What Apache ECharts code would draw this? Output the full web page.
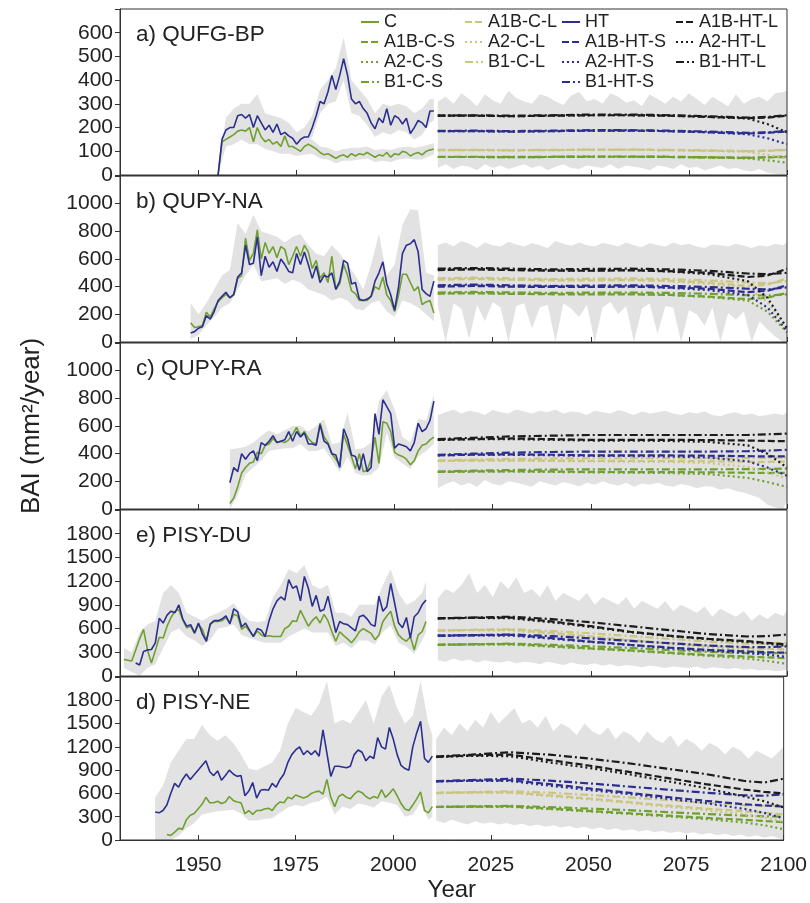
<!DOCTYPE html>
<html><head><meta charset="utf-8">
<script src="https://cdn.jsdelivr.net/npm/echarts@6/dist/echarts.min.js"></script>
<style>html,body{margin:0;padding:0;background:#fff}#c{width:810px;height:903px}</style>
</head><body><div id="c"></div>
<script>
// ---------- axis ticks ----------
const xTicks = [1950, 1975, 2000, 2025, 2050, 2075, 2100];
const panelTitles = ['a) QUFG-BP', 'b) QUPY-NA', 'c) QUPY-RA', 'e) PISY-DU', 'd) PISY-NE'];
const yMaxes = [700, 1200, 1200, 2100, 2100];
const ySteps = [100, 200, 200, 300, 300];
const yLabelMax = [600, 1000, 1000, 1800, 1800];

// ---------- projection x positions ----------
const scenYears = [2011, 2020, 2030, 2040, 2050, 2060, 2070, 2080, 2090, 2095, 2100];
const projYears = [2011,2013,2015,2017,2019,2021,2023,2025,2027,2029,2031,2033,2035,2037,2039,2041,2043,2045,2047,2049,2051,2053,2055,2057,2059,2061,2063,2065,2067,2069,2071,2073,2075,2077,2079,2081,2083,2085,2087,2089,2091,2093,2095,2097,2099,2100];

// ================= a) QUFG-BP =================
const a_C_start = 1955;
const a_C = [0,140,150,160,170,185,190,185,200,140,200,160,140,150,130,140,120,165,120,120,110,100,120,130,120,110,95,85,90,80,70,80,85,75,90,80,90,85,95,85,75,85,80,95,75,90,85,100,95,80,90,95,85,100,105,110];
const a_HT_start = 1955;
const a_HT = [0,150,190,200,200,250,255,240,255,200,250,220,190,210,180,215,170,180,165,155,130,150,160,160,200,250,310,300,350,420,360,420,490,420,320,300,310,280,260,220,195,240,220,280,210,250,240,215,240,175,200,230,220,200,270,270];
const a_bandYears = [1955,1957,1959,1961,1963,1965,1967,1969,1971,1973,1975,1977,1979,1981,1983,1985,1987,1989,1991,1993,1995,1997,1999,2001,2003,2005,2007,2009,2010];
const a_bandHT_lo = [0,150,160,200,200,190,150,140,130,120,100,120,160,260,300,310,400,260,250,210,160,180,170,190,180,150,170,220,230];
const a_bandHT_hi = [30,240,280,300,300,340,260,250,240,220,180,200,250,360,400,450,580,400,360,320,260,300,290,300,290,260,280,320,320];
const a_bandC_lo = [0,120,130,150,130,130,110,100,90,90,80,85,90,70,65,50,60,60,65,70,55,60,55,65,70,65,65,80,85];
const a_bandC_hi = [20,180,200,220,230,220,180,170,160,150,140,150,150,120,115,100,110,115,115,120,105,110,105,115,120,115,120,130,135];
const a_proj_hi = [310,330,300,345,320,290,340,315,300,355,325,310,300,340,330,310,295,335,350,310,320,300,345,330,305,315,290,340,320,300,330,310,345,320,295,330,310,290,340,300,320,330,310,345,350,355];
const a_proj_lo = [30,45,25,40,35,20,45,30,40,25,35,45,30,40,20,35,45,30,25,40,35,30,45,25,40,35,30,20,40,35,25,45,30,35,20,30,40,25,30,20,15,25,10,5,0,10];
const a_A1B_HT_L = [250,250,248,250,252,252,250,245,240,242,250];
const a_A2_HT_L  = [250,250,248,250,252,252,250,245,238,215,180];
const a_B1_HT_L  = [250,252,250,252,255,255,252,248,242,245,252];
const a_A1B_HT_S = [185,185,183,185,187,187,185,180,175,178,183];
const a_A2_HT_S  = [185,185,183,185,187,187,185,180,172,155,130];
const a_B1_HT_S  = [186,187,185,187,189,189,187,183,178,180,185];
const a_A1B_C_L  = [105,105,104,105,106,106,105,102,100,102,105];
const a_A2_C_L   = [105,105,104,105,106,106,105,102,98,85,70];
const a_B1_C_L   = [106,106,105,106,107,107,106,104,101,103,107];
const a_A1B_C_S  = [76,76,75,76,77,77,76,74,72,74,76];
const a_A2_C_S   = [76,76,75,76,77,77,76,74,70,62,52];
const a_B1_C_S   = [77,77,76,77,78,78,77,75,73,75,78];

// ================= b) QUPY-NA =================
const b_C_start = 1948;
const b_C = [140,105,110,120,215,180,240,290,320,345,320,340,460,480,750,590,640,810,600,720,640,690,610,690,670,560,620,690,620,700,650,530,590,460,500,430,620,380,420,560,480,370,350,300,300,300,330,400,380,470,340,300,220,340,490,490,430,370,400,270,290,300,210];
const b_HT_start = 1948;
const b_HT = [65,75,100,110,190,165,220,300,330,360,320,345,470,500,700,560,570,760,480,620,540,580,510,600,560,510,500,640,560,650,560,460,550,430,480,470,500,380,440,590,570,420,430,310,300,310,330,440,500,580,420,340,230,400,640,700,710,740,650,380,350,330,440];
const b_bandYears = [1948,1950,1952,1954,1956,1958,1960,1962,1964,1966,1968,1970,1972,1974,1976,1978,1980,1982,1984,1986,1988,1990,1992,1994,1996,1998,2000,2002,2004,2006,2008,2010];
const b_band_lo = [20,50,120,180,250,280,380,480,560,440,450,460,420,450,430,380,360,340,300,320,300,240,230,280,300,220,180,300,280,250,200,150];
const b_band_hi = [280,200,280,380,480,520,860,780,920,800,780,760,720,760,780,700,640,620,700,640,560,480,380,560,780,480,560,850,960,950,500,480];
const b_proj_hi = [700,720,690,730,710,680,720,700,690,725,705,690,715,700,680,730,710,695,720,700,690,715,705,690,720,700,685,715,700,690,720,700,710,690,680,705,700,690,710,695,680,700,690,710,700,720];
const b_proj_lo = [260,0,280,240,20,270,150,290,250,0,260,280,100,250,270,0,280,240,180,270,0,250,290,200,260,0,240,280,60,260,250,0,230,200,120,250,0,210,160,220,0,150,90,40,0,0];
const b_A1B_HT_L = [520,525,520,515,515,518,512,500,470,480,530];
const b_A2_HT_L  = [525,528,522,518,518,520,510,490,440,320,100];
const b_B1_HT_L  = [530,535,530,525,528,530,525,515,495,490,500];
const b_A1B_HT_S = [400,405,400,398,398,400,395,385,360,370,410];
const b_A2_HT_S  = [405,408,402,400,400,402,392,375,340,250,80];
const b_B1_HT_S  = [410,415,410,405,408,410,405,398,385,380,395];
const b_A1B_C_L  = [450,455,450,445,445,448,442,430,405,415,460];
const b_A2_C_L   = [455,458,452,448,448,450,440,420,390,290,90];
const b_B1_C_L   = [460,465,460,455,458,460,455,445,430,425,440];
const b_A1B_C_S  = [350,352,348,345,345,345,340,328,310,320,355];
const b_A2_C_S   = [352,355,350,347,347,348,340,325,300,220,70];
const b_B1_C_S   = [358,362,358,355,357,358,355,348,338,335,345];

// ================= c) QUPY-RA =================
const c_C_start = 1958;
const c_C = [40,80,160,260,300,330,340,410,400,460,470,510,480,490,480,500,540,590,530,560,510,480,470,620,520,480,400,360,320,540,460,380,290,400,270,280,360,520,330,630,620,560,410,390,380,360,320,350,420,460,470,500,520];
const c_HT_start = 1958;
const c_HT = [190,300,270,400,360,400,420,350,480,460,490,530,480,490,500,560,490,560,520,550,470,470,460,610,490,470,400,390,300,580,510,390,380,280,400,270,300,690,540,790,740,690,440,470,460,450,420,480,620,560,580,640,780];
const c_bandYears = [1958,1960,1962,1964,1966,1968,1970,1972,1974,1976,1978,1980,1982,1984,1986,1988,1990,1992,1994,1996,1998,2000,2002,2004,2006,2008,2010];
const c_band_lo = [0,100,250,300,350,420,430,440,440,470,420,420,440,350,270,380,260,240,250,300,550,370,330,290,380,420,470];
const c_band_hi = [430,440,450,480,530,570,540,570,600,600,560,600,650,470,480,700,430,440,480,780,860,720,520,480,650,640,830];
const c_proj_hi = [680,700,720,690,710,700,680,715,700,690,720,705,690,710,700,720,690,705,700,680,710,700,690,715,700,680,705,690,700,710,690,680,700,690,705,680,670,690,700,680,690,670,680,690,680,700];
const c_proj_lo = [150,180,200,170,190,160,210,180,170,200,190,175,160,200,185,170,195,180,165,190,175,200,180,170,190,160,185,175,190,170,160,180,170,150,165,160,140,150,130,120,100,80,30,10,0,60];
const c_A1B_HT_L = [500,505,510,505,500,500,500,498,495,492,490];
const c_A2_HT_L  = [500,505,505,500,495,495,492,485,460,400,300];
const c_B1_HT_L  = [505,515,525,530,535,535,535,535,535,540,545];
const c_A1B_HT_S = [388,392,395,392,388,388,387,385,382,380,380];
const c_A2_HT_S  = [388,392,392,388,384,383,380,372,345,300,240];
const c_B1_HT_S  = [392,400,408,412,415,415,415,415,418,422,428];
const c_A1B_C_L  = [347,350,352,350,348,347,347,345,342,340,345];
const c_A2_C_L   = [347,350,350,347,344,342,340,333,305,265,220];
const c_B1_C_L   = [350,357,362,365,367,367,367,367,368,370,372];
const c_A1B_C_S  = [268,271,273,271,268,267,267,265,262,260,262];
const c_A2_C_S   = [268,271,271,268,265,263,260,252,225,195,160];
const c_B1_C_S   = [271,277,282,285,287,287,287,287,288,290,292];

// ================= e) PISY-DU =================
const e_C_start = 1931;
const e_C = [210,200,190,330,470,590,330,165,320,490,480,630,740,820,840,710,610,630,540,650,590,440,650,690,690,700,740,670,780,760,590,630,570,500,570,520,500,510,500,500,500,600,630,700,690,830,730,630,700,750,670,780,700,560,440,560,510,470,420,480,560,600,570,540,460,520,690,760,820,630,520,470,440,500,330,520,560,690];
const e_HT_start = 1934;
const e_HT = [165,140,310,330,335,420,730,670,770,820,800,900,720,630,650,545,670,530,440,660,700,700,720,760,660,850,810,620,670,580,500,600,580,500,700,850,950,1000,960,1220,1110,1140,950,1260,1110,880,1020,820,840,1010,780,550,690,660,650,610,570,750,770,720,650,630,1010,820,880,1170,920,670,610,740,480,750,800,900,960];
const e_bandYears = [1931,1933,1935,1937,1939,1941,1943,1945,1947,1949,1951,1953,1955,1957,1959,1961,1963,1965,1967,1969,1971,1973,1975,1977,1979,1981,1983,1985,1987,1989,1991,1993,1995,1997,1999,2001,2003,2005,2007,2008];
const e_band_lo = [100,50,0,100,150,350,550,600,500,450,380,460,600,620,650,520,480,450,420,420,420,500,550,600,550,550,550,380,420,350,450,450,400,560,640,420,370,280,450,550];
const e_band_hi = [350,300,550,650,700,1050,1150,1050,800,750,700,760,800,850,920,780,700,680,700,1000,1150,1350,1300,1400,1150,1100,1150,800,800,750,900,900,900,1150,1350,1050,900,950,1050,1200];
const e_proj_hi = [980,1100,1050,1150,1300,1050,1150,1000,1200,1100,1250,1050,1100,1000,1150,950,1050,1000,950,1050,900,1000,950,900,1000,850,950,900,850,950,820,900,850,800,880,750,850,800,750,820,700,780,720,800,760,820];
const e_proj_lo = [200,180,220,190,210,170,200,180,170,190,160,180,170,150,180,160,140,170,150,140,160,130,150,120,140,130,110,130,120,100,120,110,100,120,90,110,100,90,100,80,90,70,80,60,70,80];
const e_A1B_HT_L = [730,735,740,690,630,560,510,470,440,420,400];
const e_A2_HT_L  = [730,735,730,680,620,555,505,465,430,410,380];
const e_B1_HT_L  = [730,740,750,720,680,630,580,530,500,505,525];
const e_A1B_HT_S = [510,515,520,480,435,395,360,330,310,300,295];
const e_A2_HT_S  = [510,515,510,472,430,390,352,320,290,270,240];
const e_B1_HT_S  = [510,518,525,505,475,445,415,385,365,365,375];
const e_A1B_C_L  = [575,580,585,545,500,455,415,380,355,345,335];
const e_A2_C_L   = [575,580,575,535,495,450,405,365,330,300,265];
const e_B1_C_L   = [575,585,592,570,540,505,470,435,410,410,420];
const e_A1B_C_S  = [395,400,405,378,350,325,295,265,245,235,225];
const e_A2_C_S   = [395,400,398,370,345,318,288,255,220,190,155];
const e_B1_C_S   = [395,402,410,395,375,355,330,305,290,288,292];

// ================= d) PISY-NE =================
const d_C_start = 1942;
const d_C = [70,60,100,150,140,260,320,340,400,460,550,480,480,500,470,490,560,510,490,480,340,380,330,380,380,400,410,380,450,490,480,550,530,580,560,540,560,600,620,630,590,780,550,430,560,590,550,530,590,630,610,560,530,560,540,650,550,600,660,570,470,400,380,450,530,620,380,350,430];
const d_HT_start = 1939;
const d_HT = [360,350,380,450,600,730,680,780,850,780,840,900,960,1020,880,830,890,770,830,900,850,820,830,570,630,740,540,640,650,640,730,680,780,850,1000,1100,1160,1200,1100,1150,1100,1150,1080,1420,1120,820,950,950,940,930,950,1100,1160,1130,1020,1080,1050,1320,1200,1170,1450,1300,1100,960,920,900,1200,1380,1530,1050,1000,1080];
const d_bandYears = [1939,1941,1943,1945,1947,1949,1951,1953,1955,1957,1959,1961,1963,1965,1967,1969,1971,1973,1975,1977,1979,1981,1983,1985,1987,1989,1991,1993,1995,1997,1999,2001,2003,2005,2007,2009,2010];
const d_band_lo = [0,0,0,50,150,220,330,350,370,380,390,340,250,250,270,280,350,420,450,430,480,500,560,330,430,400,470,450,420,500,480,450,300,330,480,260,300];
const d_band_hi = [550,700,1000,1150,1300,1300,1480,1350,1280,1350,1250,1100,920,900,950,1000,1150,1500,1700,1650,1600,1750,2050,1500,1550,1500,1650,1800,1500,1850,2000,1700,1500,1600,2050,1500,1350];
const d_proj_hi = [1300,1450,1350,1500,1400,1550,1450,1650,1500,1600,1700,1500,1550,1450,1600,1400,1500,1450,1350,1500,1400,1350,1450,1300,1400,1350,1250,1400,1300,1250,1350,1200,1300,1250,1150,1250,1200,1100,1200,1150,1050,1150,1100,1050,1150,1200];
const d_proj_lo = [250,220,260,230,200,240,210,230,200,220,190,210,180,200,170,190,160,180,150,170,140,160,130,150,120,140,110,130,100,120,90,110,80,100,70,90,60,80,50,70,40,60,30,50,20,10];
const d_A1B_HT_L = [1070,1090,1100,1030,960,880,800,720,650,620,600];
const d_A2_HT_L  = [1070,1085,1080,1000,930,850,760,670,560,500,420];
const d_B1_HT_L  = [1075,1100,1130,1100,1050,990,920,850,760,740,790];
const d_A1B_HT_S = [755,765,770,720,665,610,555,505,460,445,430];
const d_A2_HT_S  = [755,762,760,700,645,595,535,475,400,350,280];
const d_B1_HT_S  = [758,772,790,765,730,690,650,610,575,570,590];
const d_A1B_C_L  = [605,612,615,575,535,490,445,405,370,350,330];
const d_A2_C_L   = [605,610,608,565,525,480,430,385,330,290,240];
const d_B1_C_L   = [608,618,628,610,580,550,515,480,450,440,445];
const d_A1B_C_S  = [425,430,432,405,375,345,315,285,260,245,230];
const d_A2_C_S   = [425,428,428,398,368,338,305,270,225,190,140];
const d_B1_C_S   = [427,433,440,425,405,385,360,335,315,305,300];

// ---------- styling ----------
const FONT = "'Liberation Sans',Arial,sans-serif";
const COLORS = { C: '#70a030', CL: '#cbc582', HT: '#2c2f8f', HTL: '#1c1c1c' };
const DASH = { A1B: [7, 3], A2: [2, 3], B1: [8, 3, 2, 3] };
const BAND = '#e2e2e2';

// ---------- assemble tables ----------
const panelData = [
  { C:[a_C_start,a_C], HT:[a_HT_start,a_HT], bands:[[a_bandYears,a_bandHT_lo,a_bandHT_hi],[a_bandYears,a_bandC_lo,a_bandC_hi]], proj:[a_proj_lo,a_proj_hi],
    scen:{'A1B-C-S':a_A1B_C_S,'A2-C-S':a_A2_C_S,'B1-C-S':a_B1_C_S,'A1B-C-L':a_A1B_C_L,'A2-C-L':a_A2_C_L,'B1-C-L':a_B1_C_L,'A1B-HT-S':a_A1B_HT_S,'A2-HT-S':a_A2_HT_S,'B1-HT-S':a_B1_HT_S,'A1B-HT-L':a_A1B_HT_L,'A2-HT-L':a_A2_HT_L,'B1-HT-L':a_B1_HT_L}},
  { C:[b_C_start,b_C], HT:[b_HT_start,b_HT], bands:[[b_bandYears,b_band_lo,b_band_hi]], proj:[b_proj_lo,b_proj_hi],
    scen:{'A1B-C-S':b_A1B_C_S,'A2-C-S':b_A2_C_S,'B1-C-S':b_B1_C_S,'A1B-C-L':b_A1B_C_L,'A2-C-L':b_A2_C_L,'B1-C-L':b_B1_C_L,'A1B-HT-S':b_A1B_HT_S,'A2-HT-S':b_A2_HT_S,'B1-HT-S':b_B1_HT_S,'A1B-HT-L':b_A1B_HT_L,'A2-HT-L':b_A2_HT_L,'B1-HT-L':b_B1_HT_L}},
  { C:[c_C_start,c_C], HT:[c_HT_start,c_HT], bands:[[c_bandYears,c_band_lo,c_band_hi]], proj:[c_proj_lo,c_proj_hi],
    scen:{'A1B-C-S':c_A1B_C_S,'A2-C-S':c_A2_C_S,'B1-C-S':c_B1_C_S,'A1B-C-L':c_A1B_C_L,'A2-C-L':c_A2_C_L,'B1-C-L':c_B1_C_L,'A1B-HT-S':c_A1B_HT_S,'A2-HT-S':c_A2_HT_S,'B1-HT-S':c_B1_HT_S,'A1B-HT-L':c_A1B_HT_L,'A2-HT-L':c_A2_HT_L,'B1-HT-L':c_B1_HT_L}},
  { C:[e_C_start,e_C], HT:[e_HT_start,e_HT], bands:[[e_bandYears,e_band_lo,e_band_hi]], proj:[e_proj_lo,e_proj_hi],
    scen:{'A1B-C-S':e_A1B_C_S,'A2-C-S':e_A2_C_S,'B1-C-S':e_B1_C_S,'A1B-C-L':e_A1B_C_L,'A2-C-L':e_A2_C_L,'B1-C-L':e_B1_C_L,'A1B-HT-S':e_A1B_HT_S,'A2-HT-S':e_A2_HT_S,'B1-HT-S':e_B1_HT_S,'A1B-HT-L':e_A1B_HT_L,'A2-HT-L':e_A2_HT_L,'B1-HT-L':e_B1_HT_L}},
  { C:[d_C_start,d_C], HT:[d_HT_start,d_HT], bands:[[d_bandYears,d_band_lo,d_band_hi]], proj:[d_proj_lo,d_proj_hi],
    scen:{'A1B-C-S':d_A1B_C_S,'A2-C-S':d_A2_C_S,'B1-C-S':d_B1_C_S,'A1B-C-L':d_A1B_C_L,'A2-C-L':d_A2_C_L,'B1-C-L':d_B1_C_L,'A1B-HT-S':d_A1B_HT_S,'A2-HT-S':d_A2_HT_S,'B1-HT-S':d_B1_HT_S,'A1B-HT-L':d_A1B_HT_L,'A2-HT-L':d_A2_HT_L,'B1-HT-L':d_B1_HT_L}}
];
const scenOrder = ['B1-C-S','A2-C-S','A1B-C-S','B1-C-L','A2-C-L','A1B-C-L','B1-HT-S','A2-HT-S','A1B-HT-S','B1-HT-L','A2-HT-L','A1B-HT-L'];
function scenStyle(name) {
  const parts = name.split('-');
  const key = parts[1] === 'C' ? (parts[2] === 'S' ? 'C' : 'CL') : (parts[2] === 'S' ? 'HT' : 'HTL');
  return { color: COLORS[key], dash: DASH[parts[0]] };
}

const tops = [9, 176, 343, 510, 677];
const H = 166;
const grids = [], xAxes = [], yAxes = [], series = [], titles = [];

panelData.forEach((p, i) => {
  const last = i === panelData.length - 1;
  grids.push({ left: 120, right: 23, top: tops[i], height: H, show: true, borderColor: '#333', borderWidth: 1, backgroundColor: 'transparent', z: 10 });
  xAxes.push({
    type: 'value', gridIndex: i, min: 1930, max: 2100, z: 10,
    axisLine: { show: true, onZero: false, lineStyle: { color: '#333', width: 1 } },
    axisTick: { show: true, inside: true, length: 5, customValues: xTicks, lineStyle: { color: '#333' } },
    axisLabel: { show: last, customValues: xTicks, fontFamily: FONT, fontSize: 21, color: '#222', margin: 15,
      formatter: v => String(v) },
    splitLine: { show: false },
    name: last ? 'Year' : '', nameLocation: 'middle', nameGap: 38,
    nameTextStyle: { fontFamily: FONT, fontSize: 24, color: '#222' }
  });
  yAxes.push({
    type: 'value', gridIndex: i, min: 0, max: yMaxes[i], interval: ySteps[i], z: 10,
    axisLine: { show: true, lineStyle: { color: '#333', width: 1 } },
    axisTick: { show: true, inside: false, length: 5, lineStyle: { color: '#333' } },
    axisLabel: { fontFamily: FONT, fontSize: 21, color: '#222', margin: 7,
      formatter: v => (v > yLabelMax[i] ? '' : String(v)) },
    splitLine: { show: false },
    name: i === 2 ? 'BAI (mm\u00b2/year)' : '', nameLocation: 'middle', nameGap: 75, nameRotate: 90,
    nameTextStyle: { fontFamily: FONT, fontSize: 26, color: '#222' }
  });
  titles.push({ text: panelTitles[i], left: 131, top: tops[i] + 9, textStyle: { fontFamily: FONT, fontSize: 22.5, fontWeight: 'normal', color: '#222' } });

  const addBand = (years, lo, hi) => {
    series.push({ type: 'custom', coordinateSystem: 'cartesian2d', xAxisIndex: i, yAxisIndex: i, silent: true, z: 1,
      data: years.map((y, k) => [y, lo[k], hi[k]]),
      encode: { x: 0, y: [1, 2] },
      renderItem: (params, api) => {
        if (params.dataIndex !== 0) return null;
        const top = years.map((y, k) => api.coord([y, hi[k]]));
        const bot = years.map((y, k) => api.coord([y, lo[k]])).reverse();
        return { type: 'polygon', shape: { points: top.concat(bot) }, style: { fill: BAND, stroke: null } };
      } });
  };
  p.bands.forEach(b => addBand(b[0], b[1], b[2]));
  addBand(projYears, p.proj[0], p.proj[1]);

  series.push({ name: 'C', type: 'line', xAxisIndex: i, yAxisIndex: i, symbol: 'none', z: 3,
    lineStyle: { color: COLORS.C, width: 1.6 }, itemStyle: { color: COLORS.C },
    data: p.C[1].map((v, k) => [p.C[0] + k, v]) });
  series.push({ name: 'HT', type: 'line', xAxisIndex: i, yAxisIndex: i, symbol: 'none', z: 3,
    lineStyle: { color: COLORS.HT, width: 1.6 }, itemStyle: { color: COLORS.HT },
    data: p.HT[1].map((v, k) => [p.HT[0] + k, v]) });
  scenOrder.forEach(name => {
    const st = scenStyle(name);
    series.push({ name, type: 'line', xAxisIndex: i, yAxisIndex: i, symbol: 'none', z: 3,
      lineStyle: { color: st.color, width: 2.2, type: st.dash }, itemStyle: { color: st.color },
      data: scenYears.map((y, k) => [y, p.scen[name][k]]) });
  });
});

const legendBase = { orient: 'vertical', top: 13, itemWidth: 18, itemHeight: 12, itemGap: 2, padding: 0,
  itemStyle: { opacity: 0 },
  textStyle: { fontFamily: FONT, fontSize: 18, color: '#222', lineHeight: 17 }, selectedMode: false };
const legends = [
  Object.assign({}, legendBase, { left: 360, data: ['C', 'A1B-C-S', 'A2-C-S', 'B1-C-S'] }),
  Object.assign({}, legendBase, { left: 464, data: ['A1B-C-L', 'A2-C-L', 'B1-C-L'] }),
  Object.assign({}, legendBase, { left: 561, data: ['HT', 'A1B-HT-S', 'A2-HT-S', 'B1-HT-S'] }),
  Object.assign({}, legendBase, { left: 675, data: ['A1B-HT-L', 'A2-HT-L', 'B1-HT-L'] })
];

const chart = echarts.init(document.getElementById('c'), null, { renderer: 'canvas' });
chart.setOption({
  animation: false,
  backgroundColor: '#fff',
  title: titles,
  legend: legends,
  grid: grids,
  xAxis: xAxes,
  yAxis: yAxes,
  series: series
});
</script></body></html>
